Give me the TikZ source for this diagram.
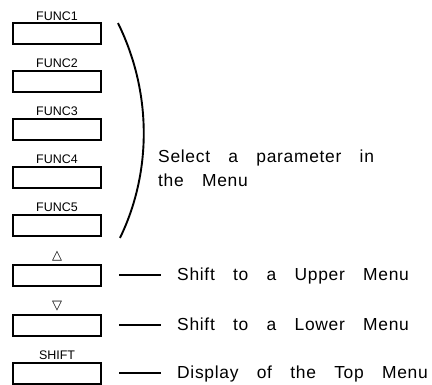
\documentclass[tikz,border=0pt]{standalone}
\usepackage{fontspec}
\setmainfont{Liberation Sans}
\newfontfamily\symfont{DejaVu Sans}
\newfontfamily\menufont[LetterSpace=4,WordSpace=3.3]{Liberation Sans}
\usetikzlibrary{matrix, positioning}

\tikzset{
  keybox/.style={draw, line width=1.8bp, minimum width=88bp, minimum height=21bp, inner sep=0pt, outer sep=0pt},
  keylabel/.style={font=\fontsize{12.5}{12.5}\selectfont, text height=9bp, text depth=0pt, inner sep=0pt, outer sep=0pt},
  keysym/.style={keylabel, font=\symfont\fontsize{13}{13}\selectfont, yshift=2bp},
  menutext/.style={font=\menufont\fontsize{17.5}{24}\selectfont, inner sep=0pt, anchor=base west},
  lead/.style={line width=1.8bp}
}

\begin{document}
\begin{tikzpicture}[x=1bp, y=-1bp]
\useasboundingbox (0,0) rectangle (432,385);
\matrix (keys) [matrix of nodes, anchor=north, inner sep=0pt, outer sep=0pt, row sep=0pt] at (57,11)
%
{
 |[keylabel](l1)| FUNC1 \\[2.2bp]
 |[keybox](b1)|         \\[13.95bp]
 |[keylabel](l2)| FUNC2 \\[2.2bp]
 |[keybox](b2)|         \\[13.95bp]
 |[keylabel](l3)| FUNC3 \\[2.2bp]
 |[keybox](b3)|         \\[13.95bp]
 |[keylabel](l4)| FUNC4 \\[2.2bp]
 |[keybox](b4)|         \\[13.95bp]
 |[keylabel](l5)| FUNC5 \\[2.2bp]
 |[keybox](b5)|         \\[13.95bp]
 |[keysym](l6)| △       \\[2.2bp]
 |[keybox](b6)|         \\[13.95bp]
 |[keysym](l7)| ▽       \\[2.2bp]
 |[keybox](b7)|         \\[13.95bp]
 |[keylabel](l8)| SHIFT \\[2.2bp]
 |[keybox](b8)|         \\
};

% brace over the five function keys
\draw[line width=1.9bp] ([xshift=17bp]b1.north east) .. controls (152,92) and (152,172) .. ([xshift=19bp, yshift=-2bp]b5.south east);
\node[menutext, align=left, anchor=north west] (sel) at (158,150) {Select a parameter in\\the Menu};

\path (b6.east) ++(76,5.5) node[menutext] (t6) {Shift to a Upper Menu};
\path (b7.east) ++(76,5.5) node[menutext] (t7) {Shift to a Lower Menu};
\path (b8.east) ++(76,5.5) node[menutext] (t8) {Display of the Top Menu};

\draw[lead] ([xshift=18bp]b6.east) -- ([xshift=-16bp]b6.east -| t6.west);
\draw[lead] ([xshift=18bp]b7.east) -- ([xshift=-16bp]b7.east -| t7.west);
\draw[lead] ([xshift=18bp]b8.east) -- ([xshift=-16bp]b8.east -| t8.west);
%
\end{tikzpicture}
\end{document}
